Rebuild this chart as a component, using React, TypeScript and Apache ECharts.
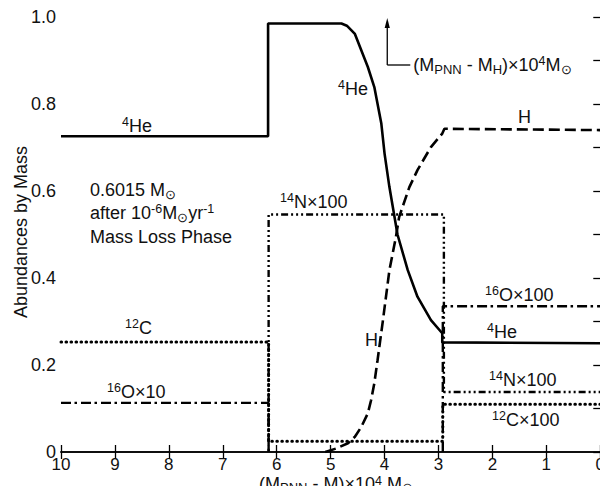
import React, { useEffect, useRef } from "react";
import * as echarts from "echarts";

// ---- data (x = (M_PNN - M) x 10^4 Msun, y = abundance by mass) ----
const he4X = [10, 6.16, 6.16, 4.8, 4.7, 4.55, 4.43, 4.31, 4.19, 4.06, 4.0, 3.91, 3.76, 3.57, 3.39, 3.14, 2.93, 2.93, 0];
const he4Y = [0.726, 0.726, 0.985, 0.985, 0.98, 0.961, 0.923, 0.885, 0.839, 0.755, 0.686, 0.609, 0.5, 0.418, 0.357, 0.303, 0.273, 0.252, 0.25];

const hX = [5.1, 4.9, 4.68, 4.55, 4.43, 4.31, 4.25, 4.19, 4.13, 4.03, 3.91, 3.79, 3.73, 3.54, 3.39, 3.14, 2.93, 2.89, 0];
const hY = [0, 0.008, 0.02, 0.035, 0.058, 0.089, 0.119, 0.158, 0.211, 0.303, 0.418, 0.494, 0.54, 0.609, 0.648, 0.701, 0.732, 0.743, 0.74];

const c12X = [10, 6.15, 6.15, 2.92, 2.92, 0];
const c12Y = [0.253, 0.253, 0.025, 0.025, 0.11, 0.11];

const o16X = [10, 6.15, 6.15, 4.5, 2.92, 2.92, 0];
const o16Y: (number | string)[] = [0.113, 0.113, 0, "-", 0, 0.335, 0.335];

const n14X = [6.15, 6.15, 2.9, 2.9, 0];
const n14Y = [0, 0.546, 0.546, 0.138, 0.138];

const xTicks = [10, 9, 8, 7, 6, 5, 4, 3, 2, 1, 0];
const yTickLabels = ["0", "0.2", "0.4", "0.6", "0.8", "1.0"];
const arrowX = 3.95; // (M_PNN - M_H) position

const FONT = "'Liberation Sans', Arial, sans-serif";
const INK = "#111";

const zip = (xs: number[], ys: (number | string)[]) => xs.map((x, i) => [x, ys[i]]);

const makeRich = (lh: number) => ({
  b: { fontSize: 18, fontFamily: FONT, color: INK, lineHeight: lh, verticalAlign: "middle" },
  sup: { fontSize: 12.5, fontFamily: FONT, color: INK, lineHeight: 12, verticalAlign: "top" },
  sub: { fontSize: 13, fontFamily: FONT, color: INK, lineHeight: 14, verticalAlign: "bottom" },
});
const rich = makeRich(22);
const richTight = makeRich(19);

function label(text: string, x: number, y: number, extra: any = {}, r: any = rich) {
  return {
    type: "text",
    x,
    y,
    silent: true,
    ...extra,
    style: {
      text,
      rich: r,
      fill: INK,
      fontSize: 18,
      fontFamily: FONT,
      align: extra.align || "left",
      verticalAlign: "middle",
    },
  };
}

export default function App() {
  const ref = useRef<HTMLDivElement>(null);
  useEffect(() => {
    if (!ref.current) return;
    const chart = echarts.init(ref.current, undefined, { renderer: "svg" });
    const axisLine = { lineStyle: { color: "#000", width: 1.6 } };
    const tickStyle = { color: "#000", width: 1.3 };
    const lineSeries = (name: string, data: any[], type: any, width = 2.5, cap = "butt") => ({
      name,
      type: "line",
      data,
      showSymbol: false,
      symbol: "none",
      connectNulls: false,
      silent: true,
      lineStyle: { color: "#000", width, type, cap },
      z: 3,
    });
    chart.setOption({
      animation: false,
      grid: { left: 61, right: 4, top: 17, bottom: 42 },
      xAxis: [
        {
          type: "value",
          min: 0,
          max: 10,
          interval: 1,
          inverse: true,
          position: "bottom",
          axisLine,
          axisTick: { inside: true, length: 7, lineStyle: tickStyle },
          axisLabel: {
            fontSize: 17,
            fontFamily: FONT,
            color: INK,
            margin: 4,
            formatter: (v: number) => (xTicks.includes(v) ? String(v) : ""),
          },
          splitLine: { show: false },
        },
        {
          type: "value",
          min: 0,
          max: 10,
          interval: 1,
          inverse: true,
          position: "top",
          axisLine,
          axisTick: { inside: true, length: 7, lineStyle: tickStyle },
          axisLabel: { show: false },
          splitLine: { show: false },
        },
      ],
      yAxis: [
        {
          type: "value",
          min: 0,
          max: 1,
          interval: 0.1,
          position: "left",
          axisLine,
          axisTick: { inside: true, length: 10, lineStyle: tickStyle },
          axisLabel: {
            fontSize: 18,
            fontFamily: FONT,
            color: INK,
            margin: 5,
            formatter: (v: number) => {
              const k = Math.round(v * 10);
              return k % 2 === 0 ? yTickLabels[k / 2] : "";
            },
          },
          splitLine: { show: false },
        },
        {
          type: "value",
          min: 0,
          max: 1,
          interval: 0.1,
          position: "right",
          axisLine,
          axisTick: { inside: true, length: 7, lineStyle: tickStyle },
          axisLabel: { show: false },
          splitLine: { show: false },
        },
      ],
      series: [
        lineSeries("4He", zip(he4X, he4Y), "solid", 2.6),
        lineSeries("H", zip(hX, hY), [11, 5], 2.6),
        lineSeries("12C", zip(c12X, c12Y), [0.6, 4.4], 3, "round"),
        lineSeries("16O", zip(o16X, o16Y), [10, 3.5, 2.5, 4], 2.4),
        lineSeries("14N", zip(n14X, n14Y), [7, 3, 2, 3, 2, 3, 2, 3], 2.4),
      ],
    });

    const ax = chart.convertToPixel({ xAxisIndex: 0 }, arrowX) as number;
    const topY = chart.convertToPixel({ yAxisIndex: 0 }, 1) as number;
    const annY = 65;

    chart.setOption({
      graphic: [
        // annotation arrow
        { type: "line", silent: true, shape: { x1: ax, y1: annY, x2: ax, y2: topY + 8 }, style: { stroke: "#000", lineWidth: 1.3 } },
        { type: "line", silent: true, shape: { x1: ax, y1: annY, x2: ax + 23, y2: annY }, style: { stroke: "#000", lineWidth: 1.3 } },
        { type: "polygon", silent: true, shape: { points: [[ax, topY + 1], [ax - 2.6, topY + 11], [ax + 2.6, topY + 11]] }, style: { fill: "#000" } },
        label("{b|(M}{sub|PNN}{b| - M}{sub|H}{b|)×10}{sup|4}{b|M}{sub|⊙}", ax + 26, annY),
        // curve labels
        label("{sup|4}{b|He}", 122, 126),
        label("{sup|4}{b|He}", 338, 89),
        label("{b|H}", 518, 117),
        label("{b|H}", 365, 340),
        label("{sup|4}{b|He}", 487, 332),
        label("{sup|16}{b|O×100}", 485, 295),
        label("{sup|14}{b|N×100}", 489, 380),
        label("{sup|12}{b|C×100}", 492, 420),
        label("{sup|14}{b|N×100}", 280, 202),
        label("{sup|12}{b|C}", 125, 328),
        label("{sup|16}{b|O×10}", 107, 392),
        // model description
        label("{b|0.6015 M}{sub|⊙}", 90, 190),
        label("{b|after 10}{sup|-6}{b|M}{sub|⊙}{b|yr}{sup|-1}", 90, 213),
        label("{b|Mass Loss Phase}", 90, 237),
        // axis titles
        label("{b|(M}{sub|PNN}{b| - M)×10}{sup|4}{b| M}{sub|⊙}", 336, 484, { align: "center" }, richTight),
        {
          type: "text",
          x: 21,
          y: 232,
          rotation: Math.PI / 2,
          silent: true,
          style: { text: "Abundances by Mass", fill: INK, fontSize: 18, fontFamily: FONT, align: "center", verticalAlign: "middle" },
        },
      ],
    });
    return () => chart.dispose();
  }, []);
  return <div ref={ref} style={{ width: 608, height: 494, margin: -8, background: "#fff" }} />;
}
